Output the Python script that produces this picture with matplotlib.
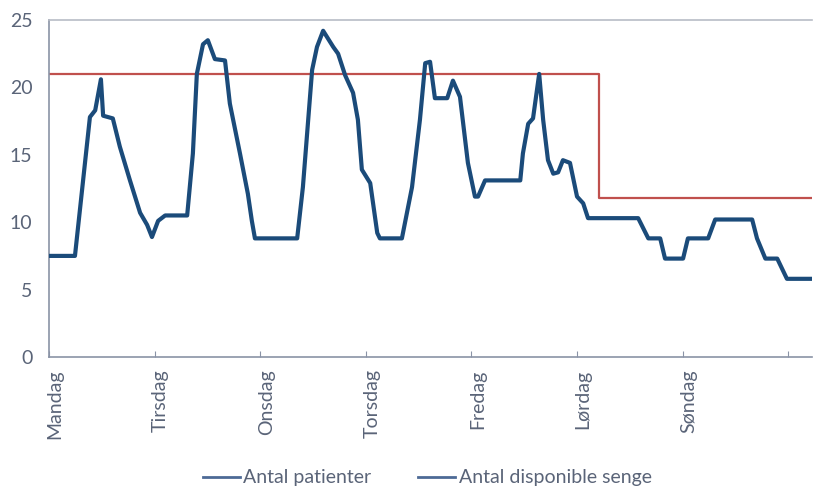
import matplotlib
matplotlib.use("Agg")
import matplotlib.pyplot as plt
import matplotlib.transforms as mtransforms
from matplotlib.lines import Line2D

plt.rcParams['font.family'] = ['Lato', 'DejaVu Sans']

# Hours since Monday 00:00 and number of patients
hours = [0, 5.9, 9.3, 10.5, 11.8, 12.3, 14.5, 16.1, 18.4, 20.7, 22.3, 23.4, 24.8, 26.4,
         31.4, 32.7, 33.6, 35.0, 36.1, 37.7, 40.0, 41.1, 43.4, 45.2, 46.1, 46.8,
         56.4, 57.7, 59.8, 60.9, 62.3, 64.6, 65.7, 67.3, 69.1, 70.2, 71.1, 73.0,
         74.6, 75.2, 80.2, 82.5, 84.3, 85.5, 86.6, 87.7, 90.5, 91.8, 93.4, 95.2,
         96.8, 97.5, 99.1, 107.1, 107.7, 108.9, 110.0, 111.4, 112.3, 113.4, 114.6,
         115.7, 116.8, 118.4, 120.0, 121.4, 122.5, 133.9, 136.2, 138.9, 140.0,
         144.1, 145.2, 149.8, 151.4, 159.8, 160.9, 162.8, 165.5, 167.7, 173.4]
patients = [7.5, 7.5, 17.8, 18.3, 20.6, 17.9, 17.7, 15.6, 13.1, 10.7, 9.8, 8.9, 10.1, 10.5,
            10.5, 15.1, 21.0, 23.2, 23.5, 22.1, 22.0, 18.8, 15.1, 12.1, 10.1, 8.8,
            8.8, 12.6, 21.3, 23.0, 24.2, 23.0, 22.5, 20.9, 19.6, 17.6, 13.9, 12.9,
            9.2, 8.8, 8.8, 12.6, 17.6, 21.8, 21.9, 19.2, 19.2, 20.5, 19.3, 14.4,
            11.9, 11.9, 13.1, 13.1, 15.1, 17.3, 17.7, 21.0, 17.6, 14.6, 13.6,
            13.7, 14.6, 14.4, 11.9, 11.4, 10.3, 10.3, 8.8, 8.8, 7.3,
            7.3, 8.8, 8.8, 10.2, 10.2, 8.8, 7.3, 7.3, 5.8, 5.8]

# Available beds (step line)
bed_hours = [0, 125.0, 125.0, 173.4]
beds = [21.0, 21.0, 11.8, 11.8]

day_labels = ['Mandag', 'Tirsdag', 'Onsdag', 'Torsdag', 'Fredag', 'Lørdag', 'Søndag', '']
day_ticks = [0, 24, 48, 72, 96, 120, 144, 168]

fig = plt.figure(figsize=(8.14, 4.93), dpi=100)
ax = fig.add_axes([49/814, (493-357)/493, 763/814, 337/493])

ax.plot(bed_hours, beds, color='#c0504d', lw=1.6, zorder=2)
ax.plot(hours, patients, color='#1b4b7a', lw=3.0, zorder=3, solid_joinstyle='round')

ax.set_xlim(0, 173.4)
ax.set_ylim(0, 25)
ax.set_yticks([0, 5, 10, 15, 20, 25])
ax.set_xticks(day_ticks)
ax.set_xticklabels(day_labels, rotation=90, ha='center', va='top')

tick_color = '#5a6478'
ax.tick_params(axis='y', length=0, labelsize=14, labelcolor=tick_color, pad=12)
ax.tick_params(axis='x', length=4, direction='in', color='#8a93a6', labelsize=14,
               labelcolor=tick_color, pad=9)

offset = mtransforms.ScaledTranslation(6/100, 0, fig.dpi_scale_trans)
for lbl in ax.get_xticklabels():
    lbl.set_transform(lbl.get_transform() + offset)

ax.spines['right'].set_visible(False)
ax.spines['top'].set_color('#b8bcc6')
ax.spines['left'].set_color('#8a93a6')
ax.spines['bottom'].set_color('#8a93a6')
for s in ax.spines.values():
    s.set_linewidth(1.2)

handles = [Line2D([], [], color='#4d6a96', lw=2.0),
           Line2D([], [], color='#4d6a96', lw=2.0)]
fig.legend(handles, ['Antal patienter', 'Antal disponible senge'],
           loc='center', bbox_to_anchor=(0.525, 1 - 478/493), ncol=2, frameon=False,
           fontsize=14, labelcolor=tick_color, handlelength=1.9, handletextpad=0.2,
           columnspacing=2.4)

fig.savefig('out.png', dpi=100)
